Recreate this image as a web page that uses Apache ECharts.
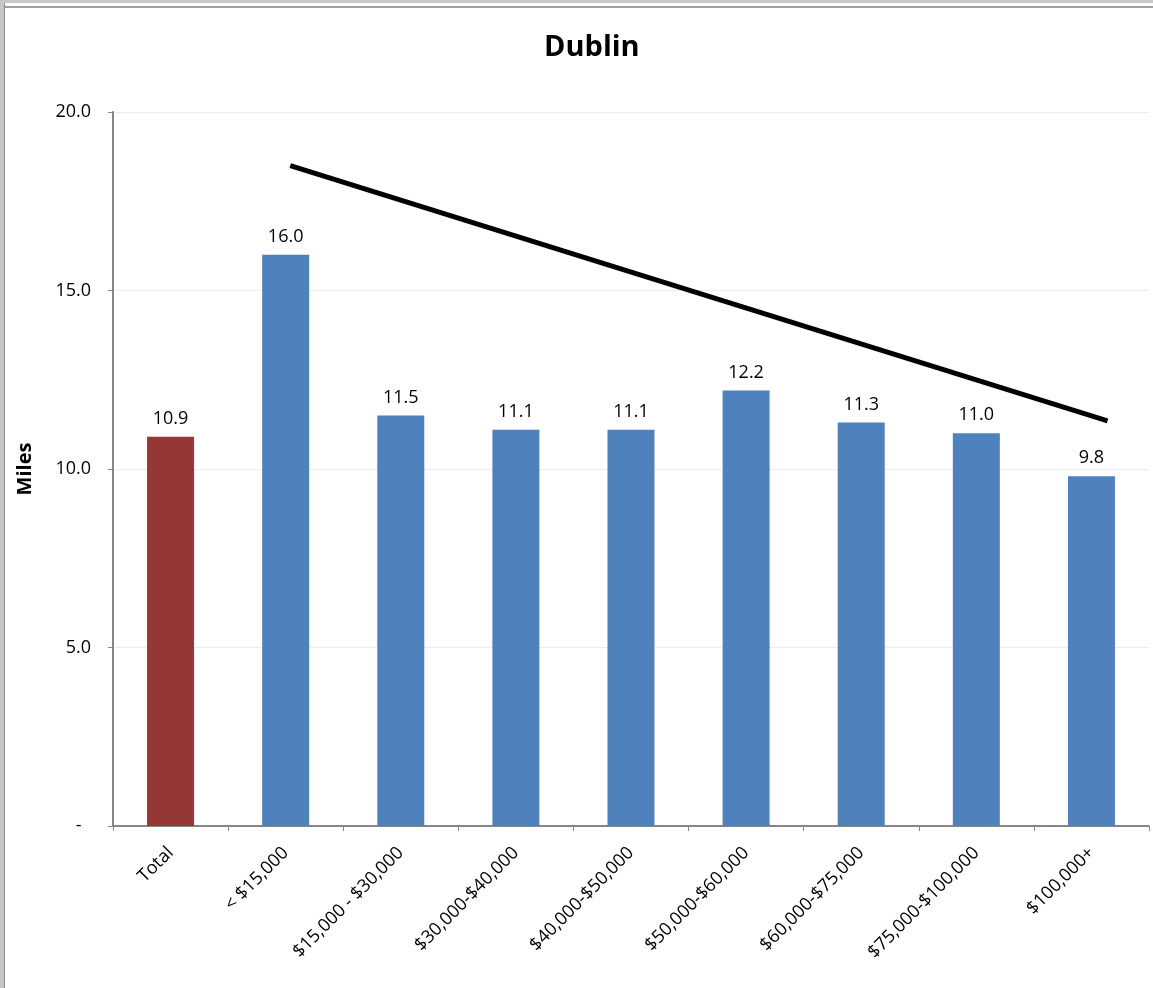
<!DOCTYPE html>
<html>
<head>
<meta charset="utf-8">
<script src="https://cdn.jsdelivr.net/npm/echarts@6/dist/echarts.min.js"></script>
<style>
  html, body { margin: 0; padding: 0; background: #fff; }
  #chart { width: 1153px; height: 988px; }
</style>
</head>
<body>
<div id="chart"></div>
<script>
// Average trip distance (miles) by household income, Dublin
const categories = ['Total', '< $15,000', '$15,000 - $30,000', '$30,000-$40,000', '$40,000-$50,000',
  '$50,000-$60,000', '$60,000-$75,000', '$75,000-$100,000', '$100,000+'];
const miles = [10.9, 16.0, 11.5, 11.1, 11.1, 12.2, 11.3, 11.0, 9.8];
const yTicks = [0, 5, 10, 15, 20];

// Trend arrow endpoints, in category-position / miles units
const trendPos = [1.54, 8.64];
const trendMiles = [18.5, 11.35];

const FONT = '"Open Sans", "Noto Sans", sans-serif';
const AXIS_GRAY = '#868686';

const chart = echarts.init(document.getElementById('chart'), null, { renderer: 'canvas' });

const barData = miles.map((v, i) => ({
  value: v,
  itemStyle: { color: i === 0 ? '#953735' : '#4F81BD' }
}));

chart.setOption({
  animation: false,
  backgroundColor: '#fff',
  title: {
    text: 'Dublin',
    left: 539,
    top: 28,
    textStyle: { fontFamily: FONT, fontWeight: 'bold', fontSize: 29, color: '#000' }
  },
  grid: { left: 113, right: 4, top: 112, bottom: 162, containLabel: false },
  xAxis: [
    {
      type: 'category',
      data: categories,
      boundaryGap: true,
      axisLine: { lineStyle: { color: AXIS_GRAY, width: 2 } },
      axisTick: { show: true, length: 5, lineStyle: { color: AXIS_GRAY, width: 1 } },
      axisLabel: {
        rotate: 45,
        margin: 24,
        interval: 0,
        fontFamily: FONT,
        fontSize: 18,
        color: '#000'
      }
    },
    {
      type: 'value',
      min: 0,
      max: categories.length,
      show: false
    }
  ],
  yAxis: {
    type: 'value',
    min: yTicks[0],
    max: yTicks[yTicks.length - 1],
    interval: 5,
    name: 'Miles',
    nameLocation: 'middle',
    nameGap: 78,
    nameRotate: 90,
    nameTextStyle: { fontFamily: FONT, fontWeight: 'bold', fontSize: 20, color: '#000' },
    axisLine: { show: true, lineStyle: { color: AXIS_GRAY, width: 2 } },
    axisTick: { show: true, inside: false, length: 5, lineStyle: { color: AXIS_GRAY } },
    splitLine: { show: true, lineStyle: { color: '#ececec', width: 1 } },
    axisLabel: {
      margin: 22,
      fontFamily: FONT,
      fontSize: 18,
      color: '#000',
      formatter: v => (v === 0 ? '-  ' : v.toFixed(1))
    }
  },
  series: [
    {
      type: 'bar',
      data: barData,
      barWidth: 47,
      label: {
        show: true,
        position: 'top',
        distance: 9,
        fontFamily: FONT,
        fontSize: 18,
        color: '#000',
        formatter: p => p.value.toFixed(1)
      }
    },
    {
      type: 'line',
      xAxisIndex: 1,
      data: trendPos.map((x, i) => [x, trendMiles[i]]),
      symbol: 'none',
      lineStyle: { color: '#000', width: 5, cap: 'butt' },
      silent: true,
      z: 5
    }
  ],
  graphic: [
    { type: 'rect', shape: { x: 0, y: 0, width: 4, height: 988 }, style: { fill: '#c6c6c6' } },
    { type: 'rect', shape: { x: 4, y: 0, width: 1, height: 988 }, style: { fill: '#8c8c8c' } },
    { type: 'rect', shape: { x: 0, y: 0, width: 1153, height: 3 }, style: { fill: '#c6c6c6' } },
    { type: 'rect', shape: { x: 5, y: 6, width: 1148, height: 2 }, style: { fill: '#a0a0a0' } }
  ]
});
</script>
</body>
</html>
